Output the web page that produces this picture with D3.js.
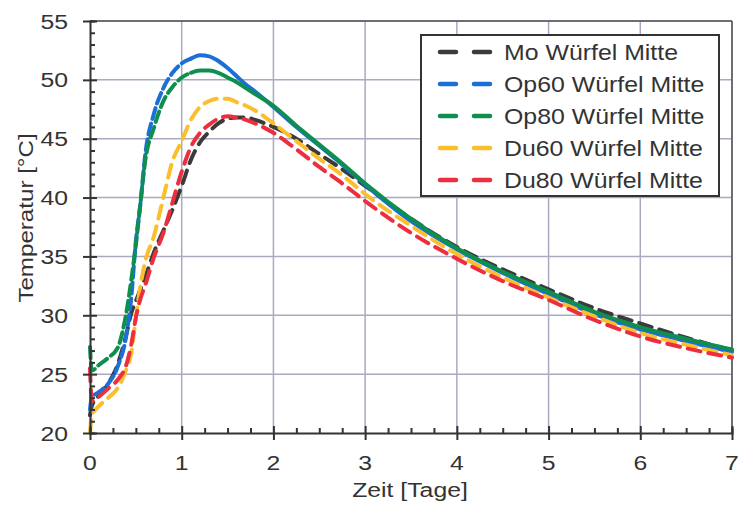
<!DOCTYPE html>
<html>
<head>
<meta charset="utf-8">
<script src="https://d3js.org/d3.v7.min.js"></script>
<style>
  body { margin: 0; background: #fff; }
  text { font-family: "Liberation Sans", Arial, sans-serif; fill: #333; }
  .grid line { stroke: #a9aac0; stroke-width: 1.5; }
  .axis path, .axis line { stroke: #333; stroke-width: 2; }
  .serie { fill: none; stroke-width: 4; stroke-linecap: round; stroke-linejoin: round; }
</style>
</head>
<body>
<svg width="739" height="506"></svg>
<script>
// Zeit in Tagen
var zeit = [0, 0.02, 0.1, 0.2, 0.3, 0.4, 0.45, 0.5, 0.55, 0.6, 0.7, 0.8, 0.9, 1.0, 1.1, 1.2, 1.3, 1.4, 1.5, 1.6, 1.7, 1.8, 2.0, 2.25, 2.5, 2.75, 3.0, 3.5, 4.0, 4.5, 5.0, 5.5, 6.0, 6.5, 7.0];

var moMitte   = [21.5, 22.3, 23.2, 24.2, 25.8, 28.5, 30.2, 31.2, 32.2, 33.2, 35.4, 37.2, 39.0, 41.0, 43.2, 44.7, 45.6, 46.3, 46.7, 46.8, 46.8, 46.6, 46.0, 45.0, 43.7, 42.4, 41.0, 38.2, 35.8, 33.9, 32.2, 30.6, 29.3, 28.1, 27.0];
var op60Mitte = [22.0, 23.0, 23.5, 24.2, 25.6, 28.5, 31.5, 36.3, 39.5, 43.5, 47.2, 49.3, 50.6, 51.4, 51.8, 52.1, 52.0, 51.6, 51.0, 50.3, 49.6, 49.0, 47.7, 46.0, 44.4, 42.8, 41.1, 38.0, 35.6, 33.6, 31.8, 30.1, 28.8, 27.8, 26.9];
var op80Mitte = [27.3, 25.3, 25.8, 26.4, 27.2, 30.4, 33.0, 36.0, 39.5, 43.0, 46.0, 48.2, 49.4, 50.2, 50.6, 50.8, 50.8, 50.6, 50.2, 49.8, 49.3, 48.8, 47.8, 46.1, 44.5, 42.9, 41.2, 38.2, 35.7, 33.7, 32.0, 30.3, 29.0, 28.0, 27.1];
var du60Mitte = [20.0, 21.5, 22.3, 23.0, 23.8, 25.5, 26.8, 29.8, 32.5, 34.5, 36.8, 40.0, 43.1, 44.8, 46.6, 47.7, 48.2, 48.4, 48.4, 48.1, 47.8, 47.4, 46.3, 44.8, 43.3, 41.9, 40.3, 37.6, 35.2, 33.2, 31.5, 29.9, 28.5, 27.5, 26.6];
var du80Mitte = [25.5, 22.7, 23.1, 23.8, 24.5, 25.9, 27.5, 29.8, 31.4, 32.5, 35.0, 37.0, 39.6, 42.2, 44.3, 45.5, 46.2, 46.7, 46.9, 46.8, 46.6, 46.3, 45.5, 44.1, 42.6, 41.2, 39.7, 37.0, 34.8, 32.9, 31.3, 29.6, 28.2, 27.2, 26.4];

var namen  = ["Mo Würfel Mitte", "Op60 Würfel Mitte", "Op80 Würfel Mitte", "Du60 Würfel Mitte", "Du80 Würfel Mitte"];
var werte  = [moMitte, op60Mitte, op80Mitte, du60Mitte, du80Mitte];
var farben = ["#3b3b3b", "#1b6fd6", "#0e8f4f", "#fbbf2e", "#ec2f3f"];

var xTicks = [0, 1, 2, 3, 4, 5, 6, 7];
var yTicks = [20, 25, 30, 35, 40, 45, 50, 55];

var svg = d3.select("svg");

var x = d3.scaleLinear().domain([0, 7]).range([90, 732]);
var y = d3.scaleLinear().domain([20, 55]).range([433, 21]);

// Text etwas breiter gezogen wie im Original
function txt(g, tx, ty, s, size, anchor, sx, rot) {
  return g.append("text")
    .attr("transform", "translate(" + tx + "," + ty + ")" + (rot ? " rotate(" + rot + ")" : "") + " scale(" + sx + ",1)")
    .attr("text-anchor", anchor).attr("font-size", size)
    .text(s);
}

// Gitter
svg.append("g").attr("class", "grid")
  .selectAll("line.v").data(xTicks.slice(1)).enter().append("line")
  .attr("x1", d => x(d)).attr("x2", d => x(d)).attr("y1", y(20)).attr("y2", y(55));
svg.append("g").attr("class", "grid")
  .selectAll("line.h").data(yTicks.slice(1)).enter().append("line")
  .attr("x1", x(0)).attr("x2", x(7)).attr("y1", d => y(d)).attr("y2", d => y(d));

// Rahmen rechts/oben
svg.append("line").attr("x1", x(7)).attr("x2", x(7)).attr("y1", y(20)).attr("y2", y(55))
  .attr("stroke", "#555").attr("stroke-width", 1.5);
svg.append("line").attr("x1", x(0)).attr("x2", x(7)).attr("y1", y(55)).attr("y2", y(55))
  .attr("stroke", "#555").attr("stroke-width", 1.5);

// Kurven
var line = d3.line()
  .x(d => x(d[0]))
  .y(d => y(d[1]))
  .curve(d3.curveMonotoneX);

werte.forEach(function(w, i) {
  var pts = zeit.map((t, j) => [t, w[j]]);
  if (i == 1 || i == 2) {
    // Op-Kurven: dicht gestrichelt im Anstieg, danach durchgehend
    svg.append("path").attr("class", "serie")
      .attr("d", line(pts.filter(p => p[0] <= 1.1)))
      .attr("stroke", farben[i]).attr("stroke-dasharray", "11,5");
    svg.append("path").attr("class", "serie")
      .attr("d", line(pts.filter(p => p[0] >= 1.1)))
      .attr("stroke", farben[i]);
  } else {
    svg.append("path").attr("class", "serie")
      .attr("d", line(pts))
      .attr("stroke", farben[i]).attr("stroke-dasharray", "13,8");
  }
});

// Achsen
svg.append("g").attr("class", "axis")
  .attr("transform", "translate(0," + y(20) + ")")
  .call(d3.axisBottom(x).tickValues(xTicks).tickSize(7).tickFormat(""))
  .call(g => g.select(".domain").remove());
svg.append("g").attr("class", "axis")
  .attr("transform", "translate(0," + y(20) + ")")
  .call(d3.axisTop(x).tickValues(d3.range(0, 7.01, 0.25)).tickSize(5).tickFormat(""))
  .call(g => g.selectAll(".tick line").filter(d => d % 1 == 0).attr("y2", -7));

svg.append("g").attr("class", "axis")
  .attr("transform", "translate(" + x(0) + ",0)")
  .call(d3.axisLeft(y).tickValues(yTicks).tickSize(7).tickFormat(""))
  .call(g => g.select(".domain").remove());
svg.append("g").attr("class", "axis")
  .attr("transform", "translate(" + x(0) + ",0)")
  .call(d3.axisRight(y).tickValues(d3.range(20, 55.1, 1)).tickSize(5).tickFormat(""))
  .call(g => g.selectAll(".tick line").filter(d => d % 5 == 0).attr("x2", 7));

// Tick-Beschriftung
var tl = svg.append("g");
xTicks.forEach(d => txt(tl, x(d), 470, d, 21, "middle", 1.18));
yTicks.forEach(d => txt(tl, 68, y(d) + 7.5, d, 21, "end", 1.18));

// Achsentitel
txt(svg, 410, 497, "Zeit [Tage]", 21, "middle", 1.18);
txt(svg, 33, 218, "Temperatur [°C]", 21, "middle", 1.15, -90);

// Legende
var leg = svg.append("g");
leg.append("rect").attr("x", 421).attr("y", 35).attr("width", 298).attr("height", 161)
  .attr("fill", "#fff").attr("stroke", "#333").attr("stroke-width", 2);
namen.forEach(function(n, i) {
  var ly = 52 + i * 32;
  leg.append("line").attr("x1", 440).attr("x2", 490).attr("y1", ly).attr("y2", ly)
    .attr("stroke", farben[i]).attr("stroke-width", 4.5).attr("stroke-linecap", "round")
    .attr("stroke-dasharray", "16,18");
  txt(leg, 504, ly + 8, n, 22, "start", 1.13);
});
</script>
</body>
</html>
